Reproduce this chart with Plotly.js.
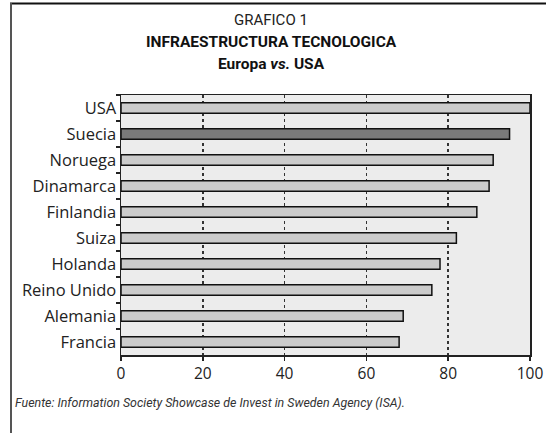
<!DOCTYPE html>
<html><head><meta charset="utf-8">
<script src="https://cdn.plot.ly/plotly-3.0.1.min.js"></script>
<style>html,body{margin:0;padding:0;background:#fff;}#chart{width:546px;height:433px;}</style>
</head><body><div id="chart"></div>
<script>
const countries = ["USA","Suecia","Noruega","Dinamarca","Finlandia","Suiza","Holanda","Reino Unido","Alemania","Francia"];
const values = [100, 95, 91, 90, 87, 82, 78, 76, 69, 68];
const xTicks = [0, 20, 40, 60, 80, 100];
const highlight = "Suecia";

const W = 546, H = 433;
const L = 121, R = 16, T = 95, B = 78;
const pw = W - L - R, ph = H - T - B;
const px = x => (x - L) / pw;
const py = y => (H - B - y) / ph;

const fills = countries.map(c => c === highlight ? "#7a7a7a" : "#cbcbcb");

const trace = {
  type: "bar", orientation: "h",
  x: values, y: countries,
  marker: {color: fills, line: {color: "#111", width: 1.5}},
  hoverinfo: "none"
};

const titleFont = "Liberation Sans Narrow, Arial Narrow, Roboto, sans-serif";
const layout = {
  width: W, height: H,
  margin: {l: L, r: R, t: T, b: B, pad: 0},
  paper_bgcolor: "#fff", plot_bgcolor: "#ececec",
  showlegend: false, bargap: 0.6,
  font: {family: "Open Sans, sans-serif", color: "#222", size: 14},
  xaxis: {
    range: [0, 100], tickvals: xTicks, ticktext: xTicks.map(String),
    showgrid: true, gridcolor: "#333", gridwidth: 1.5, griddash: "dot",
    showline: true, linecolor: "#222", linewidth: 1.5, mirror: true,
    ticks: "outside", ticklen: 4, tickcolor: "#222", tickwidth: 1.5,
    tickfont: {size: 15.5, color: "#222"}, zeroline: false, fixedrange: true
  },
  yaxis: {
    type: "category", autorange: "reversed",
    showline: true, linecolor: "#222", linewidth: 1.5, mirror: true,
    ticks: "outside", ticklen: 4, tickcolor: "#222", tickwidth: 1.5,
    tickson: "boundaries", showgrid: false,
    tickfont: {size: 16.5, color: "#222"}, fixedrange: true
  },
  shapes: [
    {type: "line", xref: "paper", yref: "paper", x0: px(10), x1: px(546), y0: py(3.5), y1: py(3.5), line: {color: "#111", width: 2}},
    {type: "line", xref: "paper", yref: "paper", x0: px(11), x1: px(11), y0: py(3), y1: py(433), line: {color: "#555", width: 2}}
  ],
  annotations: [
    {xref: "paper", yref: "paper", x: px(271), y: py(20), xanchor: "center", yanchor: "middle", showarrow: false,
     text: "GRAFICO 1", font: {family: titleFont, size: 15, color: "#222"}},
    {xref: "paper", yref: "paper", x: px(271), y: py(42), xanchor: "center", yanchor: "middle", showarrow: false,
     text: "<b>INFRAESTRUCTURA TECNOLOGICA</b>", font: {family: titleFont, size: 15.5, color: "#111"}},
    {xref: "paper", yref: "paper", x: px(271), y: py(64), xanchor: "center", yanchor: "middle", showarrow: false,
     text: "<b>Europa <i>vs.</i> USA</b>", font: {family: titleFont, size: 15.5, color: "#111"}},
    {xref: "paper", yref: "paper", x: px(13), y: py(402), xanchor: "left", yanchor: "middle", showarrow: false,
     text: "<i>Fuente: Information Society Showcase de Invest in Sweden Agency (ISA).</i>", font: {family: "Roboto, sans-serif", size: 12.4, color: "#333"}}
  ]
};

Plotly.newPlot("chart", [trace], layout, {displayModeBar: false, staticPlot: true});
</script></body></html>
